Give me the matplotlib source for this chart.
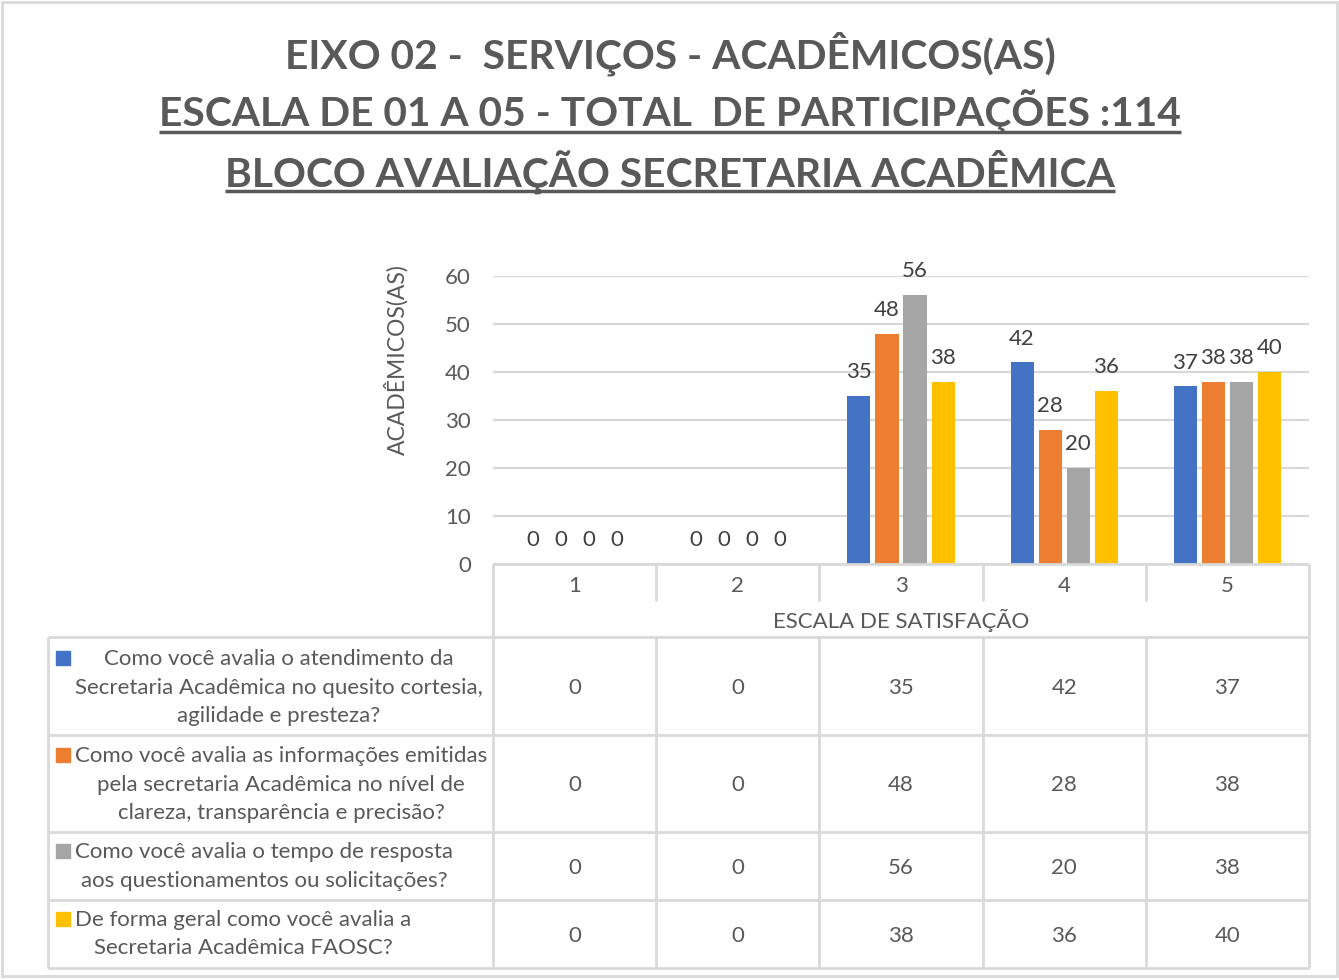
import matplotlib
matplotlib.use('Agg')
import matplotlib.pyplot as plt
from matplotlib import transforms
from matplotlib.patches import Rectangle

# ---------------- data ----------------
categories = ['1', '2', '3', '4', '5']
series_names = [
    'Como você avalia o atendimento da\nSecretaria Acadêmica no quesito cortesia,\nagilidade e presteza?',
    'Como você avalia as informações emitidas\npela secretaria Acadêmica no nível de\nclareza, transparência e precisão?',
    'Como você avalia o tempo de resposta\naos questionamentos ou solicitações?',
    'De forma geral como você avalia a\nSecretaria Acadêmica FAOSC?',
]
s1 = [0, 0, 35, 42, 37]
s2 = [0, 0, 48, 28, 38]
s3 = [0, 0, 56, 20, 38]
s4 = [0, 0, 38, 36, 40]
series_values = [s1, s2, s3, s4]
yticks = [0, 10, 20, 30, 40, 50, 60]
title_lines = ['EIXO 02 -  SERVIÇOS - ACADÊMICOS(AS)',
               'ESCALA DE 01 A 05 - TOTAL  DE PARTICIPAÇÕES :114',
               'BLOCO AVALIAÇÃO SECRETARIA ACADÊMICA']
y_label = 'ACADÊMICOS(AS)'
x_label = 'ESCALA DE SATISFAÇÃO'

# ---------------- style ----------------
colors = ['#4472C4', '#ED7D31', '#A5A5A5', '#FFC000']
FONT = ['Lato', 'DejaVu Sans']
plt.rcParams['font.family'] = FONT
GRID = '#D9D9D9'
TXT = '#595959'
LBL = '#404040'
FS = 16

W, H = 1339, 980
fig = plt.figure(figsize=(W / 100, H / 100), dpi=100)
fig.patch.set_facecolor('white')

AX_L, AX_R, AX_T, AX_B = 493, 1309, 276, 564
ax = fig.add_axes([AX_L / W, 1 - AX_B / H, (AX_R - AX_L) / W, (AX_B - AX_T) / H])
ov = fig.add_axes([0, 0, 1, 1], zorder=5)
ov.set_xlim(0, W)
ov.set_ylim(H, 0)
ov.axis('off')
ov.patch.set_alpha(0)

# bars
n = len(series_values)
slot = 0.172
bw = 0.142
xs = list(range(1, len(categories) + 1))
for i, (vals, c) in enumerate(zip(series_values, colors)):
    pos = [x + (i - (n - 1) / 2) * slot for x in xs]
    bars = ax.bar(pos, vals, width=bw, color=c, zorder=3)
    ax.bar_label(bars, labels=[str(v) for v in vals], padding=10,
                 fontsize=FS, color=LBL)

ax.set_xlim(0.5, len(categories) + 0.5)
ax.set_ylim(0, 60)
ax.set_yticks(yticks)
ax.set_yticklabels([str(t) for t in yticks], fontsize=FS, color=TXT)
ax.tick_params(axis='y', length=0, pad=16)
ax.set_xticks([])
for s in ax.spines.values():
    s.set_visible(False)
ax.yaxis.grid(True, color=GRID, lw=1.6, zorder=0)
ax.set_axisbelow(True)

# blended transform: x in category units, y in pixels
bt = transforms.blended_transform_factory(ax.transData, ov.transData)

lkw = dict(color=GRID, lw=2, solid_capstyle='butt', zorder=1)
ov.plot([0.5, 5.5], [564, 564], transform=bt, **lkw)
TL = 48
row_lines = [637, 735, 832, 900, 968]
for yy in row_lines:
    ov.plot([TL, AX_R], [yy, yy], **lkw)
ov.plot([AX_L, AX_L], [564, 968], **lkw)
ov.plot([AX_R, AX_R], [564, 968], **lkw)
ov.plot([TL, TL], [637, 968], **lkw)
for b in [1.5, 2.5, 3.5, 4.5]:
    ov.plot([b, b], [564, 601], transform=bt, **lkw)
    ov.plot([b, b], [637, 968], transform=bt, **lkw)

# category labels
for x, c in zip(xs, categories):
    ov.text(x, 592, c, transform=bt, ha='center', va='baseline',
            fontsize=FS, color=TXT)
ov.text(3, 628, x_label, transform=bt, ha='center', va='baseline',
        fontsize=FS, color=TXT)

# table rows
fig.canvas.draw()
renderer = fig.canvas.get_renderer()
row_base = [694, 791, 874, 942]
first_base = [[665, 694, 722], [762, 791, 819], [858, 887], [926, 954]]
TEXT_X0 = 75
for r in range(n):
    for x, v in zip(xs, series_values[r]):
        ov.text(x, row_base[r], str(v), transform=bt, ha='center',
                va='baseline', fontsize=FS, color=TXT)
    lines = series_names[r].split('\n')
    objs = [ov.text(0, yb, ln, ha='center', va='baseline', fontsize=FS,
                    color=TXT) for ln, yb in zip(lines, first_base[r])]
    maxw = max(o.get_window_extent(renderer).width for o in objs)
    cx = min(TEXT_X0 + maxw / 2, 281)
    for o in objs:
        o.set_x(cx)
    ov.add_patch(Rectangle((56, first_base[r][0] - 14), 14, 14,
                           color=colors[r], zorder=3))

# y label
ov.text(396, 360, y_label, rotation=90, ha='center', va='center',
        fontsize=16.5, color=TXT)

# titles
title_base = [68, 127, 186]
under_y = [None, 132, 191]
for t, yb, uy in zip(title_lines, title_base, under_y):
    tt = ov.text(670, yb, t, ha='center', va='baseline', fontsize=29.3,
                 fontweight='bold', color=TXT)
    if uy is not None:
        fig.canvas.draw()
        bb = tt.get_window_extent()
        ov.plot([bb.x0, bb.x1], [uy, uy], color=TXT, lw=2.5,
                solid_capstyle='butt')

# outer border
ov.add_patch(Rectangle((2, 2), W - 4, H - 6, fill=False, ec=GRID, lw=2))

fig.savefig('out.png', dpi=100, facecolor='white')
